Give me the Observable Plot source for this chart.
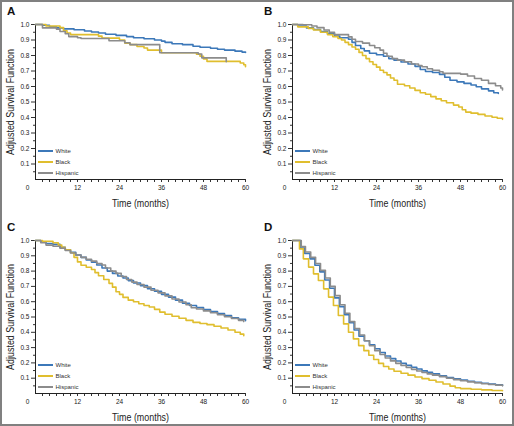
<!DOCTYPE html>
<html>
<head>
<meta charset="utf-8">
<script src="https://cdn.jsdelivr.net/npm/d3@7"></script>
<script src="https://cdn.jsdelivr.net/npm/@observablehq/plot@0.6"></script>
<style>
  body { margin: 0; background: #fff; }
  #wrap { position: relative; width: 514px; height: 426px; overflow: hidden; background: #fff;
          font-family: "Liberation Sans", Arial, sans-serif; }
  #frame { position: absolute; left: 0; top: 0; width: 514px; height: 426px; box-sizing: border-box;
           border: 2px solid #808080; pointer-events: none; }
  .panel { position: absolute; width: 257px; height: 213px; }
  .panel svg { position: absolute; left: 0; top: 0; }
  .plabel { position: absolute; left: 7px; font: bold 11.5px "Liberation Sans", Arial, sans-serif; line-height: 1; color: #111; }
  .lrow { position: absolute; display: flex; align-items: center; height: 8px; font-size: 6px; color: #333; white-space: nowrap; }
  .lsw { display: inline-block; width: 15px; height: 2px; margin-right: 3px; }
</style>
</head>
<body>
<div id="wrap"><div id="frame"></div></div>
<script>
// ---- Data (months, adjusted survival) ----
const raceNames = ["White", "Black", "Hispanic"];
const raceColors = ["#3c78b9", "#e0be2e", "#8c8c8c"];

const yTickValues = [0.1, 0.2, 0.3, 0.4, 0.5, 0.6, 0.7, 0.8, 0.9, 1.0];
const yMinorTicks = [0.05, 0.15, 0.25, 0.35, 0.45, 0.55, 0.65, 0.75, 0.85, 0.95];
const xTickValues = [12, 24, 36, 48, 60];
const xMinorTicks = [2, 4, 6, 8, 10, 14, 16, 18, 20, 22, 26, 28, 30, 32, 34, 38, 40, 42, 44, 46, 50, 52, 54, 56, 58];
const panelLetters = ["A", "B", "C", "D"];
const yTitle = "Adjusted Survival Function";
const xTitle = "Time (months)";

// Panel A
const aWhite = [[0,1],[2,0.995],[4,0.985],[6,0.978],[8,0.972],[11,0.966],[14,0.958],[16,0.952],[18,0.945],[20,0.937],[23,0.93],[26,0.922],[28,0.915],[31,0.908],[34,0.9],[36,0.893],[37,0.885],[39,0.876],[42,0.87],[45,0.86],[47,0.853],[50,0.847],[52,0.84],[54,0.835],[57,0.828],[59,0.822],[60,0.82]];
const aBlack = [[0,1],[3,0.99],[7,0.98],[8,0.96],[9,0.945],[10,0.935],[18,0.925],[19,0.912],[24,0.9],[25.5,0.88],[27,0.87],[29,0.858],[31,0.848],[32,0.835],[36,0.818],[46,0.808],[47,0.795],[48,0.778],[49,0.762],[58.5,0.752],[59.5,0.74],[60,0.728]];
const aHispanic = [[0,1],[2,0.978],[6,0.97],[7,0.955],[8.5,0.94],[9.5,0.922],[12,0.915],[13,0.91],[21,0.895],[25.5,0.882],[27,0.87],[35.5,0.818],[46.5,0.81],[47.5,0.785],[54.5,0.76]];

// Panel B
const bWhite = [[0,1],[1.5,0.99],[4,0.978],[6,0.968],[8,0.955],[10,0.94],[12,0.925],[13.5,0.915],[16,0.905],[17,0.885],[18,0.865],[19.5,0.845],[20.5,0.83],[22,0.815],[24,0.805],[26,0.795],[27.5,0.78],[29,0.77],[31,0.758],[33,0.745],[35,0.73],[36.5,0.71],[38,0.697],[40,0.69],[42,0.678],[43.5,0.66],[45,0.64],[47,0.63],[49,0.62],[51,0.61],[52.5,0.598],[54,0.585],[56,0.572],[57.5,0.56],[58.8,0.555]];
const bBlack = [[0,1],[1.5,0.985],[4.5,0.975],[6,0.965],[8,0.95],[10,0.935],[11.5,0.922],[13,0.91],[14,0.9],[15,0.885],[16,0.87],[17,0.855],[18,0.84],[19,0.82],[20,0.8],[21,0.78],[22,0.76],[23,0.742],[24,0.725],[25,0.705],[26,0.69],[27,0.675],[28,0.655],[29,0.64],[30,0.615],[32,0.605],[33.5,0.59],[35,0.575],[36.5,0.56],[38,0.55],[39.5,0.535],[41,0.52],[42.5,0.508],[44,0.495],[46,0.48],[47.5,0.468],[48.5,0.45],[49.5,0.435],[51,0.428],[53,0.42],[55,0.41],[57,0.402],[58.5,0.395],[60,0.388]];
const bHispanic = [[0,1],[3,0.998],[5.5,0.99],[7,0.98],[9,0.965],[10.5,0.95],[12,0.935],[16,0.92],[17,0.905],[18,0.89],[20,0.88],[22,0.865],[23.5,0.85],[25,0.835],[26,0.815],[27,0.795],[28.5,0.78],[30,0.77],[32,0.76],[34,0.745],[36,0.735],[37,0.727],[38.5,0.715],[40,0.705],[42,0.695],[43,0.685],[48,0.68],[50,0.668],[52,0.652],[54,0.64],[56,0.62],[58,0.605],[59.5,0.59],[60,0.578]];

// Panel C
const cWhite = [[0,1],[1.5,0.99],[3,0.98],[5,0.975],[7,0.955],[8.5,0.94],[10,0.923],[11.5,0.905],[13,0.89],[14.5,0.873],[16,0.858],[17.5,0.84],[19,0.82],[20.5,0.8],[22,0.785],[23.5,0.768],[25,0.755],[26.5,0.738],[28,0.722],[30,0.705],[32,0.685],[34,0.668],[36,0.648],[38,0.63],[40,0.61],[42,0.59],[44,0.575],[46,0.562],[48,0.548],[50,0.535],[52,0.522],[54,0.51],[56,0.495],[58,0.485],[60,0.476]];
const cBlack = [[0,1],[2,0.995],[5,0.985],[6.5,0.97],[7.5,0.955],[8.5,0.94],[10,0.92],[11,0.89],[12,0.86],[13,0.838],[14.5,0.825],[16,0.81],[17,0.79],[18,0.77],[19.5,0.745],[21,0.72],[22,0.695],[23,0.665],[24,0.648],[25,0.628],[26.5,0.61],[28,0.6],[29.5,0.587],[31,0.575],[32.5,0.565],[34,0.55],[35.5,0.532],[37,0.518],[39,0.505],[41,0.492],[43,0.478],[45,0.465],[47,0.458],[49,0.45],[51,0.44],[53,0.428],[55,0.415],[57,0.4],[58.5,0.388],[59.5,0.378]];
const cHispanic = [[0,1],[1.5,0.985],[3,0.97],[5,0.962],[7,0.95],[8.5,0.935],[10,0.918],[11.5,0.905],[13,0.89],[14.5,0.877],[16,0.865],[17.5,0.85],[19,0.84],[20,0.82],[21.5,0.8],[23,0.785],[24.5,0.765],[26,0.745],[27.5,0.728],[29,0.712],[31,0.695],[33,0.675],[35,0.658],[37,0.638],[39,0.618],[41,0.598],[43,0.58],[44.5,0.56],[46,0.552],[48,0.54],[50,0.528],[52,0.515],[54,0.502],[56,0.49],[58,0.478],[59.5,0.47]];

// Panel D
const dWhite = [[0,1],[2.3,0.95],[3.5,0.915],[5,0.88],[6.4,0.838],[7.8,0.795],[9.2,0.742],[10.6,0.688],[12,0.625],[13.4,0.568],[14.8,0.515],[16.2,0.462],[17.6,0.415],[19,0.375],[20.5,0.345],[22,0.318],[23.5,0.292],[25,0.268],[26.5,0.245],[28,0.228],[29.5,0.212],[31,0.197],[32.5,0.184],[34,0.172],[35.5,0.16],[37,0.148],[38.5,0.138],[40,0.128],[42,0.115],[44,0.105],[46,0.096],[48,0.088],[50,0.08],[52,0.073],[54,0.067],[56,0.062],[58,0.057],[60,0.053]];
const dBlack = [[0,1],[2,0.945],[3.1,0.88],[4.6,0.826],[6,0.782],[7.4,0.739],[8.9,0.684],[10.3,0.63],[11.7,0.575],[13.1,0.51],[14.6,0.455],[16,0.4],[17.4,0.357],[18.9,0.313],[20.4,0.28],[21.8,0.25],[23.2,0.222],[24.6,0.197],[26,0.176],[27.5,0.16],[29,0.145],[31,0.132],[33,0.12],[35,0.108],[37,0.097],[39,0.087],[41,0.075],[43,0.062],[45,0.048],[46.5,0.038],[48,0.032],[51,0.028],[54,0.024],[57,0.02],[60,0.018]];
const dHispanic = [[0,1],[2.5,0.96],[3.7,0.925],[5.2,0.89],[6.6,0.85],[8,0.805],[9.4,0.755],[10.8,0.7],[12.2,0.64],[13.6,0.58],[15,0.525],[16.4,0.47],[17.8,0.425],[19.2,0.382],[20.6,0.345],[22,0.312],[23.5,0.28],[25,0.255],[26.5,0.232],[28,0.213],[29.5,0.197],[31,0.183],[32.5,0.17],[34,0.158],[35.5,0.147],[37,0.137],[38.5,0.128],[40,0.12],[42,0.11],[44,0.1],[46,0.091],[48,0.083],[50,0.076],[52,0.07],[54,0.064],[56,0.059],[58,0.055],[60,0.05]];

// ---- Layout ----
const panels = [
  {letter: panelLetters[0], series: [aWhite, aBlack, aHispanic], left: 0,   top: 0,   mt: 24, mb: 34, lt: 6},
  {letter: panelLetters[1], series: [bWhite, bBlack, bHispanic], left: 257, top: 0,   mt: 24, mb: 34, lt: 6},
  {letter: panelLetters[2], series: [cWhite, cBlack, cHispanic], left: 0,   top: 213, mt: 27, mb: 33, lt: 9},
  {letter: panelLetters[3], series: [dWhite, dBlack, dHispanic], left: 257, top: 213, mt: 27, mb: 33, lt: 9}
];

const W = 257, H = 213, ML = 35, MR = 12;
const FONT = '"Liberation Sans", Arial, sans-serif';
const wrap = d3.select("#wrap");

for (const p of panels) {
  const data = p.series.flatMap((s, i) => s.map(([t, v]) => ({t, v, race: raceNames[i]})));
  const chart = Plot.plot({
    width: W, height: H,
    marginLeft: ML, marginRight: MR, marginTop: p.mt, marginBottom: p.mb,
    style: {fontFamily: FONT, fontSize: "6.5px", color: "#222", background: "transparent", overflow: "visible"},
    x: {domain: [0, 60]},
    y: {domain: [0, 1]},
    color: {domain: raceNames, range: raceColors},
    marks: [
      Plot.axisY(yMinorTicks, {tickSize: 2, tickFormat: () => "", label: null, stroke: "#333"}),
      Plot.axisY(yTickValues, {tickSize: 4, tickPadding: 2, tickFormat: d3.format(".1f"), label: null, stroke: "#333"}),
      Plot.axisY([], {label: yTitle, labelAnchor: "center", labelArrow: "none", labelOffset: 29, fontSize: 11, tickSize: 0, fill: "#222"}),
      Plot.axisX(xMinorTicks, {tickSize: 3, tickFormat: () => "", label: null, stroke: "#333"}),
      Plot.axisX(xTickValues, {tickSize: 3, tickPadding: 3, label: null, stroke: "#333"}),
      Plot.axisX([0], {tickSize: 0, tickPadding: 6, dx: -8, label: null}),
      Plot.axisX([], {label: xTitle, labelAnchor: "center", labelArrow: "none", labelOffset: 27, fontSize: 11, tickSize: 0, fill: "#222"}),
      Plot.ruleX([0], {stroke: "#222", strokeWidth: 1}),
      Plot.ruleY([0], {stroke: "#222", strokeWidth: 1}),
      Plot.line(data, {x: "t", y: "v", z: "race", stroke: "race", curve: "step-after", strokeWidth: 1.6})
    ]
  });

  // condense the axis titles like the reference's narrow typeface
  d3.select(chart).select('g[aria-label="y-axis label"] text')
    .attr("textLength", 106).attr("lengthAdjust", "spacingAndGlyphs");
  d3.select(chart).select('g[aria-label="x-axis label"] text')
    .attr("textLength", 57).attr("lengthAdjust", "spacingAndGlyphs");

  const panel = wrap.append("div").attr("class", "panel")
    .style("left", p.left + "px").style("top", p.top + "px");
  panel.node().appendChild(chart);
  panel.append("div").attr("class", "plabel").style("top", p.lt + "px").text(p.letter);

  // legend (line swatches) in the lower-left of the plot area
  const axisY0 = H - p.mb;
  const rowOffsets = [28, 17, 6.5];
  raceNames.forEach((name, i) => {
    const row = panel.append("div").attr("class", "lrow")
      .style("left", (ML + 2.5) + "px")
      .style("top", (axisY0 - rowOffsets[i] - 4) + "px");
    row.append("span").attr("class", "lsw").style("background", raceColors[i]);
    row.append("span").text(name);
  });
}
</script>
</body>
</html>
